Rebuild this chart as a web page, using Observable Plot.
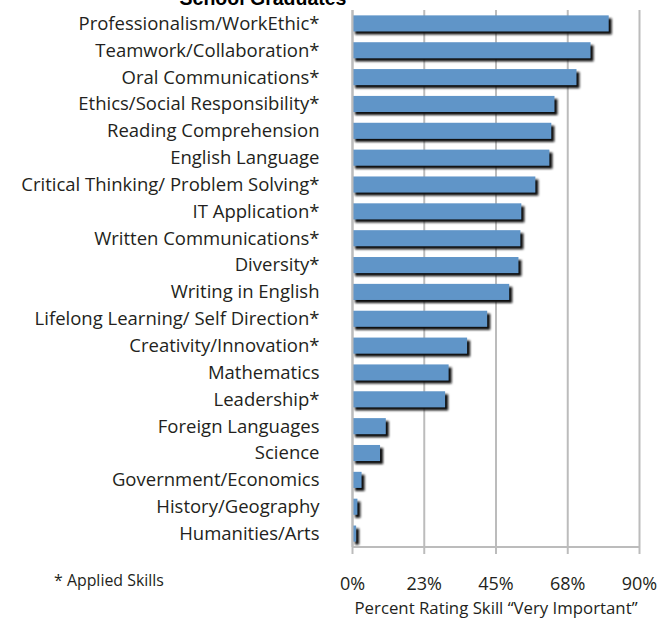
<!DOCTYPE html>
<html>
<head>
<meta charset="utf-8">
<script src="https://cdn.jsdelivr.net/npm/d3@7"></script>
<script src="https://cdn.jsdelivr.net/npm/@observablehq/plot@0.6"></script>
<style>
  html, body { margin: 0; padding: 0; background: #fff; overflow: hidden; }
  #wrap { position: relative; width: 657px; height: 621px; }
  #chart { position: absolute; left: 0; top: 0; }
  #title { position: absolute; left: 0; width: 526px; top: -13px; text-align: center; z-index: 2;
           font: bold 19.5px "Liberation Sans", Arial, sans-serif; color: #000; white-space: nowrap; }
  #note { position: absolute; left: 54px; top: 569px; font: 15.9px "Open Sans", sans-serif; color: #231f20; z-index: 2; }
  svg text { fill: #231f20; }
</style>
</head>
<body>
<div id="wrap">
  <div id="chart"></div>
  <div id="title">School Graduates</div>
  <div id="note">* Applied Skills</div>
</div>
<script>
const skills = [
  "Professionalism/WorkEthic*",
  "Teamwork/Collaboration*",
  "Oral Communications*",
  "Ethics/Social Responsibility*",
  "Reading Comprehension",
  "English Language",
  "Critical Thinking/ Problem Solving*",
  "IT Application*",
  "Written Communications*",
  "Diversity*",
  "Writing in English",
  "Lifelong Learning/ Self Direction*",
  "Creativity/Innovation*",
  "Mathematics",
  "Leadership*",
  "Foreign Languages",
  "Science",
  "Government/Economics",
  "History/Geography",
  "Humanities/Arts"
];
const percents = [80.5, 74.8, 70.4, 63.5, 62.5, 61.9, 57.5, 53.1, 52.8, 52.2, 49.3, 42.4, 36.1, 30.3, 29.2, 10.6, 8.8, 3.0, 1.7, 1.3];
const tickValues = [0, 22.5, 45, 67.5, 90];
const xLabel = "Percent Rating Skill \u201cVery Important\u201d";

const data = skills.map((s, i) => ({skill: s, value: percents[i]}));

const chart = Plot.plot({
  width: 657,
  height: 621,
  marginLeft: 352,
  marginRight: 18,
  marginTop: 10,
  marginBottom: 74,
  style: {fontFamily: "'Open Sans', sans-serif", fontSize: "18px", color: "#231f20", background: "white"},
  x: {domain: [0, 90], ticks: tickValues, tickFormat: d => Math.round(d) + "%", label: null},
  y: {domain: skills, paddingInner: 0.4, paddingOuter: 0.2, round: false, label: null},
  marks: [
    Plot.gridX(tickValues, {stroke: "#bcbcbc", strokeWidth: 2, strokeOpacity: 1}),
    Plot.barX(data, {x: "value", y: "skill", fill: "#111", dx: 3, dy: 3, className: "shadow"}),
    Plot.barX(data, {x: "value", y: "skill", fill: "#6095c8"}),
    Plot.ruleX([0], {stroke: "#bcbcbc", strokeWidth: 2}),
    Plot.axisX({ticks: tickValues, tickFormat: d => Math.round(d) + "%", tickSize: 7, tickPadding: 23, stroke: "#bcbcbc", strokeWidth: 2, fontSize: "18px", label: null}),
    Plot.axisY({tickSize: 0, tickPadding: 33, fontSize: "18.5px", label: null}),
    Plot.text([xLabel], {frameAnchor: "bottom", dy: 66, fontSize: 16.8, fill: "#231f20"})
  ]
});

document.getElementById("chart").appendChild(chart);
const svg = d3.select(chart);
svg.append("line").attr("x1", 352).attr("x2", 639).attr("y1", 547).attr("y2", 547)
  .attr("stroke", "#bcbcbc").attr("stroke-width", 2);
const defs = svg.insert("defs", ":first-child");
defs.append("filter").attr("id", "blurShadow").attr("x", "-20%").attr("y", "-50%").attr("width", "140%").attr("height", "200%")
  .append("feGaussianBlur").attr("stdDeviation", 1.2);
svg.selectAll("g.shadow").attr("filter", "url(#blurShadow)");
</script>
</body>
</html>
